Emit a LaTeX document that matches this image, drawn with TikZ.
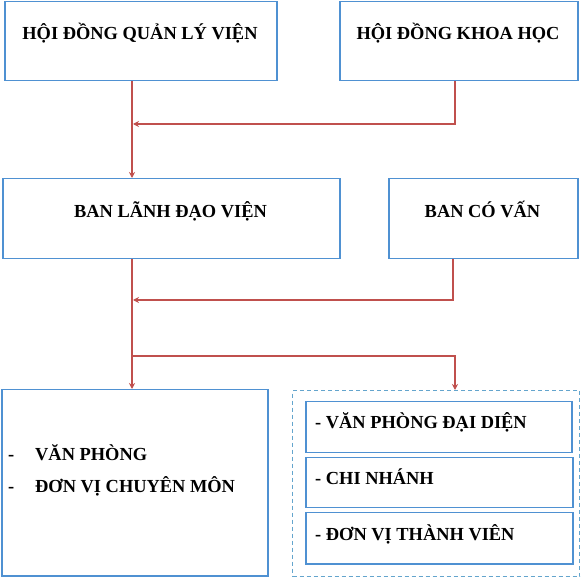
\documentclass[tikz,border=0pt]{standalone}
\usepackage{fontspec}
\setmainfont{Liberation Serif}
\usetikzlibrary{arrows.meta}
\definecolor{boxblue}{RGB}{79,145,210}
\definecolor{dashblue}{RGB}{100,165,205}
\definecolor{connred}{RGB}{192,80,77}
\tikzset{
  boxnode/.style={draw=boxblue, line width=1.5pt, rectangle, inner sep=0pt},
  txt/.style={font=\bfseries\fontsize{18.4}{20}\selectfont, inner sep=0pt},
  conn/.style={draw=connred, line width=1.2pt},
  arr/.style={conn, -{Stealth[length=6pt,width=6pt]}},
}
\newcommand{\boxat}[5]{\node[boxnode, anchor=north west, minimum width=#4pt, minimum height=#5pt] (#1) at (#2,#3) {};}
\begin{document}
\begin{tikzpicture}[x=1pt,y=-1pt]
\useasboundingbox (0,0) rectangle (582,580);
% top row
\boxat{qly}{4}{1}{272}{79}
\boxat{khh}{339}{1}{238}{79}
\node[txt, anchor=base] (tqly) at (140,40) {HỘI ĐỒNG QUẢN LÝ VIỆN};
\node[txt, anchor=base] (tkhh) at (458,40) {HỘI ĐỒNG KHOA HỌC};
% middle row
\boxat{ld}{2}{178}{337}{80}
\boxat{cv}{388}{178}{189}{80}
\node[txt, anchor=base] (tld) at (170.5,218) {BAN LÃNH ĐẠO VIỆN};
\node[txt, anchor=base] (tcv) at (482.5,218) {BAN CÓ VẤN};
% bottom left
\boxat{vp}{1}{389}{266}{186}
\node[txt, anchor=base west] (d1) at (8,461) {-};
\node[txt, anchor=base west] (t1) at (35,461) {VĂN PHÒNG};
\node[txt, anchor=base west] (d2) at (8,493) {-};
\node[txt, anchor=base west] (t2) at (35,493) {ĐƠN VỊ CHUYÊN MÔN};
% bottom right dashed group
\node[draw=dashblue, line width=1.2pt, dash pattern=on 4pt off 3pt, anchor=north west, minimum width=287pt, minimum height=186pt, inner sep=0pt] (grp) at (292,390) {};
\boxat{vpdd}{305}{401}{266}{51}
\boxat{cn}{305}{457}{267}{50}
\boxat{dvtv}{305}{512}{267}{51}
\node[txt, anchor=base west] (tvpdd) at (315,429) {- VĂN PHÒNG ĐẠI DIỆN};
\node[txt, anchor=base west] (tcn) at (315,485) {- CHI NHÁNH};
\node[txt, anchor=base west] (tdvtv) at (315,540) {- ĐƠN VỊ THÀNH VIÊN};
% connectors
\coordinate (j1) at (132,124);
\coordinate (j2) at (132,300);
\coordinate (j3) at (132,356);
\coordinate (k1) at (455,124);
\coordinate (k2) at (453,300);
\coordinate (k3) at (455,356);
\draw[arr] (j1 |- qly.south) -- (j1 |- ld.north);
\draw[arr] (k1 |- khh.south) -- (k1) -- ([xshift=1pt]j1);
\draw[arr] (j2 |- ld.south) -- (j2 |- vp.north);
\draw[arr] (k2 |- cv.south) -- (k2) -- ([xshift=1pt]j2);
\draw[arr] (j3) -- (k3) -- (k3 |- grp.north);
\end{tikzpicture}
\end{document}
